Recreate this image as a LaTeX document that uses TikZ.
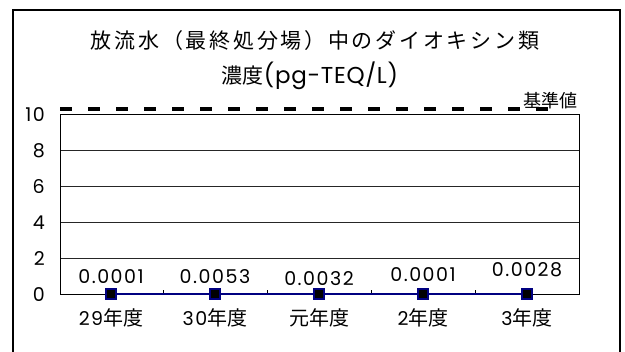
\documentclass[tikz,border=0pt]{standalone}
\usepackage{fontspec}
\setmainfont{Poppins}
\newfontfamily\latinwide[LetterSpace=8]{Poppins}
\newfontfamily\latinmid[LetterSpace=3]{Poppins}
\newfontfamily\cjk{Noto Sans CJK JP}
\newfontfamily\cjkwide[LetterSpace=13]{Noto Sans CJK JP}
\definecolor{navyline}{RGB}{0,0,128}
\newcommand{\cj}[1]{{\fontsize{20}{20}\selectfont\cjk #1}}
\tikzset{
  gridline/.style={line width=0.8pt, black!85},
  ylab/.style={anchor=east, inner sep=0pt, font=\fontsize{19}{19}\selectfont\latinwide},
  vallab/.style={inner sep=0pt, font=\fontsize{19}{19}\selectfont\latinwide},
  catlab/.style={inner sep=0pt, font=\fontsize{19}{19}\selectfont\latinwide},
  marker/.style={rectangle, minimum size=10pt, inner sep=0pt, fill=black, draw=navyline, line width=1.5pt},
  titlefont/.style={inner sep=0pt, font=\fontsize{21}{21}\selectfont}
}
\begin{document}
\begin{tikzpicture}[x=1pt,y=-1pt]
\useasboundingbox (0,0) rectangle (625,352);
% outer frame
\draw[line width=2pt] (13,352) -- (13,10) -- (620,10) -- (620,352);
% title
\node[titlefont] (t1) at (315,41) {\cjkwide 放流水（最終処分場）中のダイオキシン類};
\node[titlefont] (t2) at (310,76) {{\cjk 濃度}{\fontsize{23}{23}\selectfont\latinmid(pg-TEQ/L)}};
% grid
\foreach \yy in {150,186,222,258} \draw[gridline] (60,\yy) -- (579,\yy);
\draw[line width=0.8pt] (60,114) rectangle (579,294);
\foreach \xx in {163,267,371,475} \draw[line width=0.8pt] (\xx,294) -- (\xx,290);
% standard line
\draw[line width=3.5pt, dash pattern=on 12pt off 16pt] (60,109) -- (551,109);
\node[inner sep=0pt, font=\fontsize{18}{18}\selectfont\cjk] (std) at (550,101) {基準値};
% y labels
\node[ylab] (y10) at (45,115) {10};
\node[ylab] (y8) at (45,151) {8};
\node[ylab] (y6) at (45,187) {6};
\node[ylab] (y4) at (45,223) {4};
\node[ylab] (y2) at (45,259) {2};
\node[ylab] (y0) at (45,295) {0};
% data
\coordinate (p1) at (111,294);
\coordinate (p2) at (215,294);
\coordinate (p3) at (319,294);
\coordinate (p4) at (423,294);
\coordinate (p5) at (527,294);
\draw[navyline, line width=2pt] (p1) -- (p2) -- (p3) -- (p4) -- (p5);
\foreach \p in {p1,p2,p3,p4,p5} \node[marker] at (\p) {};
% value labels
\node[vallab] (v1) at (111,277) {0.0001};
\node[vallab] (v2) at (215,277) {0.0053};
\node[vallab] (v3) at (319,279) {0.0032};
\node[vallab] (v4) at (423,275) {0.0001};
\node[vallab] (v5) at (527,270) {0.0028};
% categories
\node[catlab] (c1) at (111,318) {29\cj{年度}};
\node[catlab] (c2) at (215,318) {30\cj{年度}};
\node[catlab] (c3) at (319,318) {\cj{元年度}};
\node[catlab] (c4) at (423,318) {2\cj{年度}};
\node[catlab] (c5) at (527,318) {3\cj{年度}};
\end{tikzpicture}
\end{document}
